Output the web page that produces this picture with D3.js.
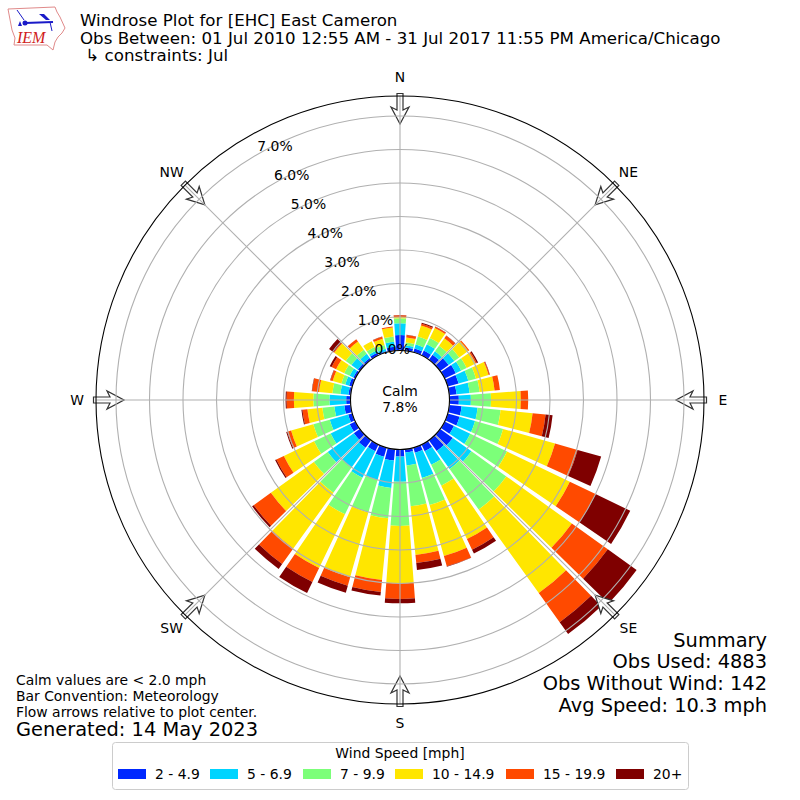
<!DOCTYPE html>
<html>
<head>
<meta charset="utf-8">
<script src="https://cdn.jsdelivr.net/npm/d3@7"></script>
<style>
body { margin: 0; background: #fff; }
text { font-family: "DejaVu Sans", sans-serif; fill: #000; }
</style>
</head>
<body>
<script>
// Wind direction bins (degrees) and speed classes
var directions = [0, 10, 20, 30, 40, 50, 60, 70, 80, 90, 100, 110, 120, 130, 140, 150, 160, 170,
    180, 190, 200, 210, 220, 230, 240, 250, 260, 270, 280, 290, 300, 310, 320, 330, 340, 350];
var speedLabels = ["2 - 4.9", "5 - 6.9", "7 - 9.9", "10 - 14.9", "15 - 19.9", "20+"];
var speedColors = ["#0028ff", "#00d4ff", "#7cff79", "#ffe600", "#ff4a00", "#7f0000"];

// Percent of observations in each direction bin, one array per speed class
var speed2 = [.46, .10, .12, .16, .19, .31, .37, .34, .22, .28, .37, .37, .31, .46, .40, .22, .16, .10,
    .21, .34, .28, .22, .28, .22, .19, .13, .19, .13, .07, .10, .07, .07, .07, .09, .04, .12];
var speed5 = [.35, .06, .12, .21, .12, .21, .18, .30, .39, .36, .48, .48, .54, .69, .66, .45, .78, .39,
    .75, .82, .72, .88, .72, .96, .63, .57, .30, .50, .24, .12, .12, .24, .15, .07, .07, .15];
var speed7 = [.15, .09, .25, .21, .21, .18, .18, .24, .30, .60, .69, .87, 1.22, 1.28, 1.49, .69, .84, 1.22,
    1.32, .91, 1.01, 1.21, .93, .51, .55, .51, .36, .48, .24, .12, .18, .21, .15, .12, .12, .16];
var speed10 = [.04, .15, .34, .33, .27, .33, .30, .39, .45, .89, .96, 1.61, 2.08, 2.41, 3.07, 1.77, 1.58, 1.46,
    1.71, 1.85, 2.01, 1.78, 2.05, 1.58, 1.00, .69, .45, .58, .40, .27, .27, .42, .30, .19, .19, .27];
var speed15 = [.05, .07, .06, .04, .09, .04, .04, .03, .16, .22, .39, .70, .85, 1.32, 1.07, .35, .32, .24,
    .47, .36, .26, .46, .57, .63, .25, .12, .15, .22, .21, .07, .15, .03, .09, 0, .06, .03];
var speed20 = [.01, .01, .03, .01, .01, 0, .04, .01, 0, 0, .21, .73, 1.15, 1.06, .43, .13, .01, .21,
    .13, .11, .22, .37, .18, .06, .04, .03, .03, .03, .01, .01, .06, .16, 0, 0, .01, 0];

var radialTicks = [0, 1, 2, 3, 4, 5, 6, 7];
var compassAngles = [0, 45, 90, 135, 180, 225, 270, 315];
var compassLabels = ["N", "NE", "E", "SE", "S", "SW", "W", "NW"];

var titleLines = ["Windrose Plot for [EHC] East Cameron",
    "Obs Between: 01 Jul 2010 12:55 AM - 31 Jul 2017 11:55 PM America/Chicago",
    " \u21B3 constraints: Jul"];
var summaryLines = ["Summary", "Obs Used: 4883", "Obs Without Wind: 142", "Avg Speed: 10.3 mph"];
var noteLines = ["Calm values are < 2.0 mph", "Bar Convention: Meteorology", "Flow arrows relative to plot center."];

var svgWidth = 800;
var svgHeight = 800;
var cx = 400;
var cy = 400;
var outerRadius = 304;
var calmRadius = 49.5;

var svg = d3.select("body")
    .append("svg")
    .attr("width", svgWidth)
    .attr("height", svgHeight)
    .style("display", "block");

// Radius: percent of observations. Max of the axis is set by the outer circle
var r = d3.scaleLinear()
    .domain([0, 7])
    .range([calmRadius, calmRadius + 7 * 33.5]);

// Each bar gets 10 degrees, most of them are filled
var theta = d3.scaleBand()
    .domain(directions)
    .range([-5 * Math.PI / 180, 355 * Math.PI / 180])
    .paddingInner(0.14)
    .paddingOuter(0.07);

var rows = directions.map((d, i) => ({
    dir: d,
    s0: speed2[i], s1: speed5[i], s2: speed7[i], s3: speed10[i], s4: speed15[i], s5: speed20[i]
}));
var stacked = d3.stack().keys(["s0", "s1", "s2", "s3", "s4", "s5"])(rows);

var plot = svg.append("g").attr("transform", `translate(${cx}, ${cy})`);

var arc = d3.arc()
    .innerRadius(d => r(d[0]))
    .outerRadius(d => r(d[1]))
    .startAngle(d => theta(d.data.dir))
    .endAngle(d => theta(d.data.dir) + theta.bandwidth());

plot.selectAll(".speed")
    .data(stacked)
    .enter()
    .append("g")
    .attr("class", "speed")
    .attr("fill", (d, i) => speedColors[i])
    .selectAll("path")
    .data(d => d)
    .enter()
    .append("path")
    .attr("d", arc);

// Flow arrows, tail on the outer circle and pointing to the center
var arrowShape = "M-3,-306.5 L3,-306.5 L3,-290 L9,-293 L0,-276 L-9,-293 L-3,-290 Z";
plot.selectAll(".flow")
    .data(compassAngles)
    .enter()
    .append("path")
    .attr("d", arrowShape)
    .attr("transform", d => `rotate(${d})`)
    .attr("fill", "#fff")
    .attr("stroke", "#333")
    .attr("stroke-width", 1.2);

// Grid goes over the bars and the arrows
plot.selectAll(".ring")
    .data(radialTicks)
    .enter()
    .append("circle")
    .attr("r", d => r(d))
    .attr("fill", "none")
    .attr("stroke", "#b0b0b0")
    .attr("stroke-width", 1.1);

plot.selectAll(".spoke")
    .data(compassAngles)
    .enter()
    .append("line")
    .attr("x1", d => calmRadius * Math.sin(d * Math.PI / 180))
    .attr("y1", d => -calmRadius * Math.cos(d * Math.PI / 180))
    .attr("x2", d => outerRadius * Math.sin(d * Math.PI / 180))
    .attr("y2", d => -outerRadius * Math.cos(d * Math.PI / 180))
    .attr("stroke", "#b0b0b0")
    .attr("stroke-width", 1.1);

plot.append("circle")
    .attr("r", outerRadius)
    .attr("fill", "none")
    .attr("stroke", "#000")
    .attr("stroke-width", 1.1);

plot.append("circle")
    .attr("r", calmRadius)
    .attr("fill", "#fff")
    .attr("stroke", "#000")
    .attr("stroke-width", 1.1);

plot.append("text")
    .attr("text-anchor", "middle")
    .attr("y", -4)
    .attr("font-size", "13.9px")
    .text("Calm");
plot.append("text")
    .attr("text-anchor", "middle")
    .attr("y", 12)
    .attr("font-size", "13.9px")
    .text("7.8%");

// Radial tick labels sit along the -30 degree line
plot.selectAll(".rlabel")
    .data(radialTicks)
    .enter()
    .append("text")
    .attr("text-anchor", "middle")
    .attr("font-size", "13.9px")
    .attr("x", d => -r(d) * 0.5 + 17)
    .attr("y", d => -r(d) * 0.866 - 3.5)
    .text(d => d.toFixed(1) + "%");

// Compass labels
plot.selectAll(".compass")
    .data(compassAngles)
    .enter()
    .append("text")
    .attr("text-anchor", "middle")
    .attr("font-size", "13.9px")
    .attr("x", d => 323 * Math.sin(d * Math.PI / 180))
    .attr("y", d => -323 * Math.cos(d * Math.PI / 180) + 5)
    .text((d, i) => compassLabels[i]);

// Header
svg.selectAll(".title")
    .data(titleLines)
    .enter()
    .append("text")
    .attr("x", 80)
    .attr("y", (d, i) => 26 + i * 17.6)
    .attr("font-size", "15.3px")
    .attr("xml:space", "preserve")
    .style("font-size", "16.67px")
    .style("white-space", "pre")
    .text(d => d);

// Summary block
svg.selectAll(".summary")
    .data(summaryLines)
    .enter()
    .append("text")
    .attr("x", 767)
    .attr("y", (d, i) => 646.5 + i * 21.8)
    .attr("text-anchor", "end")
    .attr("font-size", "19.4px")
    .text(d => d);

// Notes in lower left
svg.selectAll(".note")
    .data(noteLines)
    .enter()
    .append("text")
    .attr("x", 16)
    .attr("y", (d, i) => 685 + i * 16)
    .attr("font-size", "13.9px")
    .text(d => d);

svg.append("text")
    .attr("x", 16)
    .attr("y", 736)
    .attr("font-size", "19.4px")
    .text("Generated: 14 May 2023");

// Legend
var legend = svg.append("g");
legend.append("rect")
    .attr("x", 112.5)
    .attr("y", 742.5)
    .attr("width", 576)
    .attr("height", 47)
    .attr("rx", 3)
    .attr("fill", "#fff")
    .attr("stroke", "#ccc");
legend.append("text")
    .attr("x", 400)
    .attr("y", 758)
    .attr("text-anchor", "middle")
    .attr("font-size", "13.9px")
    .text("Wind Speed [mph]");

var legendX = d3.scaleOrdinal()
    .domain(speedLabels)
    .range([118, 210, 303, 395, 506, 616]);

var items = legend.selectAll(".item")
    .data(speedLabels)
    .enter()
    .append("g")
    .attr("transform", d => `translate(${legendX(d)}, 769)`);
items.append("rect")
    .attr("width", 28)
    .attr("height", 10)
    .attr("fill", (d, i) => speedColors[i]);
items.append("text")
    .attr("x", 37)
    .attr("y", 10)
    .attr("font-size", "13.9px")
    .text(d => d);

// IEM logo
var logo = svg.append("g");
logo.append("path")
    .attr("d", "M8,9 L55,7 L57,12 L60,17 L65,28 L62,33 L58,37 L55,42 L53,50 L47,45 L14,45 L15,38 L12,30 Z")
    .attr("fill", "#fff")
    .attr("stroke", "#e08a8a")
    .attr("stroke-width", 1);
logo.append("path")
    .attr("d", "M25,23 L53,22")
    .attr("stroke", "#1a1ac8")
    .attr("stroke-width", 2.2)
    .attr("fill", "none");
logo.append("path")
    .attr("d", "M17,10 L24,20 M50,22 L52,31")
    .attr("stroke", "#1a1ac8")
    .attr("stroke-width", 1)
    .attr("fill", "none");
logo.append("path")
    .attr("d", "M39,14 L44,14 L50,20 L46,20 Z M18,26 L20,21 L22,26 Z")
    .attr("fill", "#1a1ac8");
logo.append("circle")
    .attr("cx", 25).attr("cy", 23).attr("r", 2.5).attr("fill", "#1a1ac8");
logo.append("text")
    .attr("x", 17)
    .attr("y", 43)
    .attr("font-size", "16px")
    .attr("font-style", "italic")
    .style("font-family", "'Liberation Serif', serif")
    .style("fill", "#d02020")
    .text("IEM");
</script>
</body>
</html>
